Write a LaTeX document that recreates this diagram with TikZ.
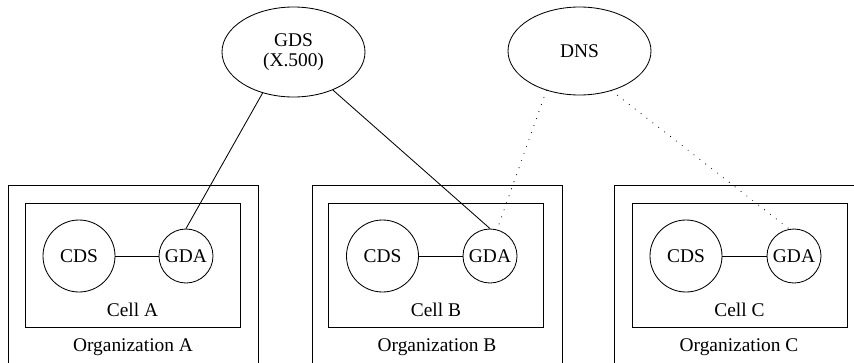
\documentclass[tikz,border=0pt]{standalone}
\usepackage{fontspec}
\setmainfont{Liberation Serif}
\usepackage{tikz}
\usetikzlibrary{shapes.geometric, positioning}

\begin{document}
\begin{tikzpicture}[
    % GLOBAL CFG
    font=\fontsize{13.8}{13.8}\selectfont,
    line width=0.6pt,
    % Styles
    org/.style={% For the organization boxes
        rectangle,
        draw,
        minimum width=6.25cm,
        minimum height=4.675cm,
        },
    cellbox/.style={% For the cell boxes
        rectangle,
        draw,
        minimum width=5.375cm,
        minimum height=3.1cm,
        },
    dir/.style={% For the directory services
        ellipse,
        draw,
        minimum width=3.575cm,
        minimum height=2.25cm,
        align=center,
        },
    cds/.style={% For the cell directory servers
        circle,
        draw,
        inner sep=0pt,
        minimum size=1.8cm,
        },
    gda/.style={% For the global directory agents
        circle,
        draw,
        inner sep=0pt,
        minimum size=1.35cm,
        },
    mylabel/.style={% texts under the boxes
        anchor=base,
        },
    dots/.style={% DNS links
        line width=0.8pt,
        line cap=round,
        dash pattern=on 0pt off 5.3pt,
        },
    ]

    \useasboundingbox (0,0) rectangle (21.35,9.05);
    \clip (0,0) rectangle (21.35,9.05);

    % Draw the organizations named org#
    \node [org] (orgA) at (3.325,2.0875) {};
    \node [org] (orgB) at (10.925,2.0875) {};
    \node [org] (orgC) at (18.475,2.0875) {};
    \node [mylabel] (orgAtext) at (3.325,0.2625) {Organization A};
    \node [mylabel] (orgBtext) at (10.925,0.2625) {Organization B};
    \node [mylabel] (orgCtext) at (18.475,0.2625) {Organization C};

    % Draw the cells named cell#
    \node [cellbox] (cellA) at (3.3125,2.425) {};
    \node [cellbox] (cellB) at (10.9,2.425) {};
    \node [cellbox] (cellC) at (18.4875,2.425) {};
    \node [mylabel] (cellAtext) at (3.3125,1.15) {Cell A};
    \node [mylabel] (cellBtext) at (10.9,1.15) {Cell B};
    \node [mylabel] (cellCtext) at (18.4875,1.15) {Cell C};

    % Draw servers and agents named cds# and gda#
    \node [cds] (cdsA) at (1.975,2.65) {CDS};
    \node [gda] (gdaA) at (4.65,2.65) {GDA};
    \node [cds] (cdsB) at (9.5625,2.65) {CDS};
    \node [gda] (gdaB) at (12.25,2.65) {GDA};
    \node [cds] (cdsC) at (17.15,2.65) {CDS};
    \node [gda] (gdaC) at (19.85,2.65) {GDA};

    % Draw the global services
    \node [dir] (gds) at (7.3375,7.75) {GDS\\(X.500)};
    \node [dir, minimum height=2.2cm] (dns) at (14.4875,7.775) {DNS};

    % Start connecting all.
    \draw (cdsA) -- (gdaA);
    \draw (cdsB) -- (gdaB);
    \draw (cdsC) -- (gdaC);

    \draw (gds.233) -- (gdaA.north);
    \draw (gds.316) -- (gdaB.north);

    \draw [dots] (dns.230) -- (gdaB.75);
    \draw [dots] (dns.309) -- (gdaC.100);
  \end{tikzpicture}
\end{document}
